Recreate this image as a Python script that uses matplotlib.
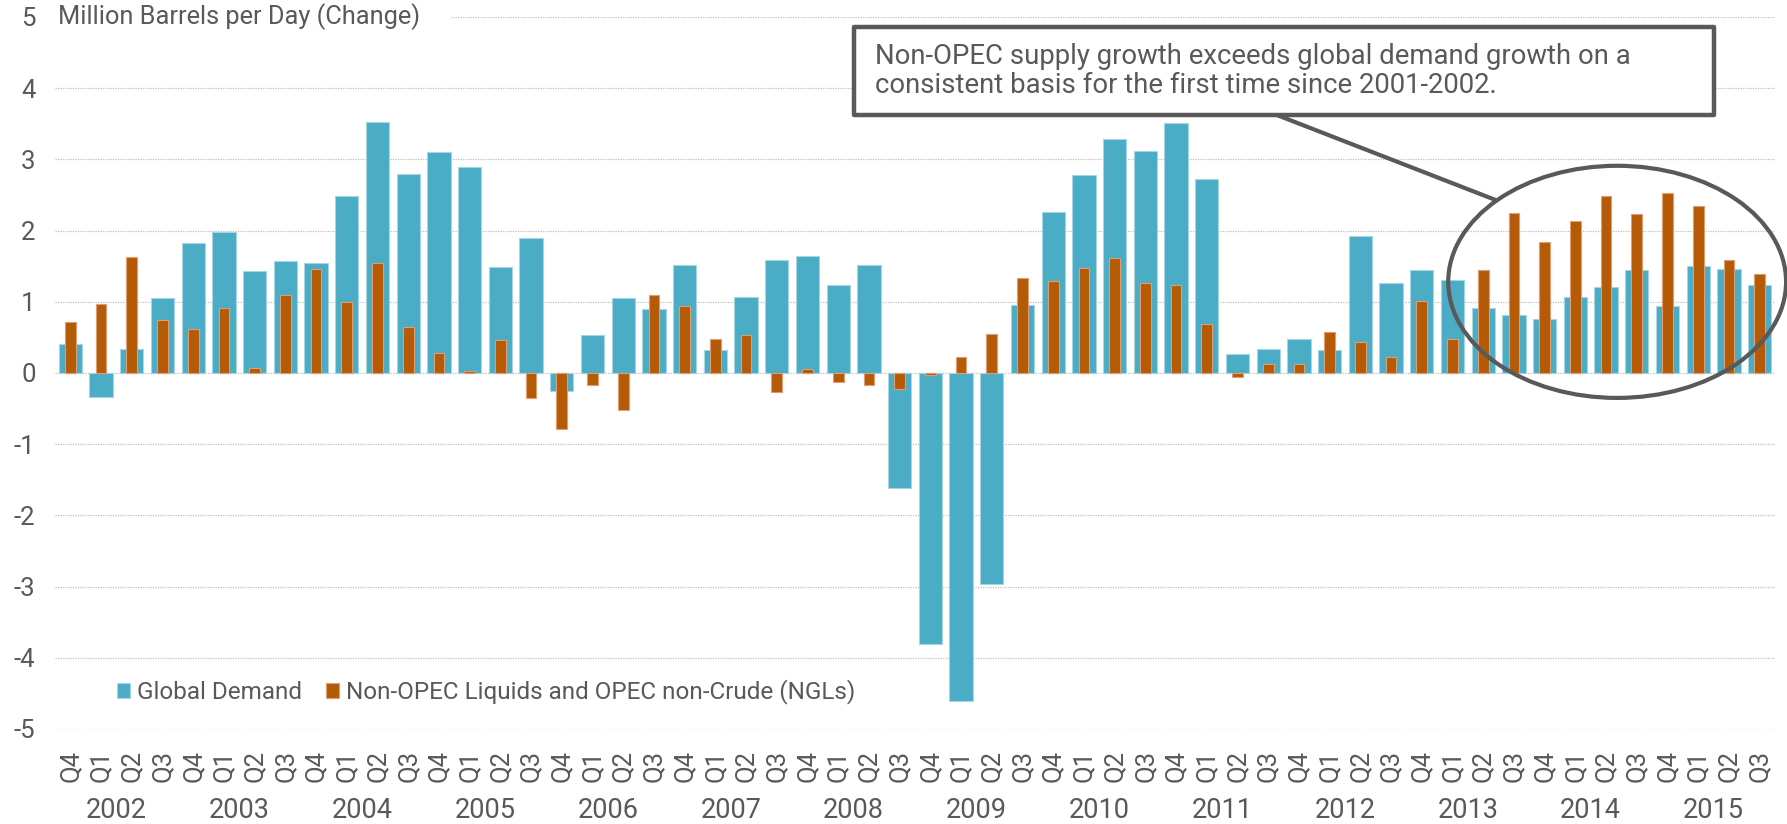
import numpy as np
import matplotlib.pyplot as plt
from matplotlib.patches import Ellipse, Rectangle
from matplotlib.transforms import blended_transform_factory

plt.rcParams['font.family'] = ['Roboto', 'DejaVu Sans']

# quarters Q4 2001 .. Q3 2015, grouped under the year label
quarters = ['Q4', 'Q1', 'Q2', 'Q3'] * 14
years = [str(y) for y in range(2002, 2016)]

# change vs. year earlier, million barrels per day
demand = [0.41, -0.34, 0.34, 1.05, 1.82, 1.98, 1.43, 1.57, 1.55, 2.49,
          3.52, 2.79, 3.11, 2.89, 1.49, 1.89, -0.25, 0.54, 1.05, 0.90,
          1.52, 0.32, 1.07, 1.58, 1.64, 1.23, 1.51, -1.62, -3.81, -4.61,
          -2.96, 0.95, 2.26, 2.78, 3.28, 3.12, 3.51, 2.72, 0.27, 0.34,
          0.48, 0.32, 1.93, 1.26, 1.45, 1.30, 0.91, 0.81, 0.76, 1.07,
          1.21, 1.45, 0.94, 1.50, 1.46, 1.23]
supply = [0.71, 0.97, 1.63, 0.74, 0.62, 0.91, 0.07, 1.09, 1.46, 1.00,
          1.54, 0.64, 0.28, 0.03, 0.47, -0.35, -0.79, -0.17, -0.52, 1.09,
          0.94, 0.48, 0.53, -0.27, 0.05, -0.12, -0.17, -0.22, -0.03, 0.22,
          0.55, 1.33, 1.29, 1.47, 1.62, 1.27, 1.23, 0.69, -0.05, 0.12,
          0.12, 0.57, 0.43, 0.22, 1.01, 0.48, 1.45, 2.25, 1.84, 2.14,
          2.49, 2.23, 2.53, 2.35, 1.59, 1.39]

note = ('Non-OPEC supply growth exceeds global demand growth on a\n'
        'consistent basis for the first time since 2001-2002.')

blue = '#4BACC6'
orange = '#B55A06'
grey = '#595959'

x = np.arange(len(quarters))

fig = plt.figure(figsize=(17.87, 8.24), dpi=100)
ax = fig.add_axes([0.0308, 0.1153, 0.9625, 0.8641])

b1 = ax.bar(x, demand, width=0.76, color=blue, edgecolor='#a6d6e3',
            linewidth=0.8, label='Global Demand', zorder=2)
b2 = ax.bar(x, supply, width=0.35, color=orange, edgecolor='#dc9f73',
            linewidth=0.8, label='Non-OPEC Liquids and OPEC non-Crude (NGLs)',
            zorder=3)

ax.set_xlim(-0.5, len(quarters) - 0.5)
ax.set_ylim(-5, 5)
ax.set_yticks(range(-5, 6))
ax.set_yticklabels([str(v) for v in range(-5, 6)])
ax.yaxis.grid(True, linestyle=(0, (1, 1)), color='#c0c0c0', linewidth=0.9)
ax.set_axisbelow(True)
for s in ax.spines.values():
    s.set_visible(False)

ax.set_xticks(x)
ax.set_xticklabels(quarters, rotation=90)
ax.tick_params(axis='x', length=0, pad=15, labelsize=18.5, colors=grey)
ax.tick_params(axis='y', length=0, pad=14, labelsize=18.5, colors=grey)
for lab in ax.get_yticklabels():
    lab.set_horizontalalignment('right')

trans = blended_transform_factory(ax.transData, ax.transAxes)
for i, yr in enumerate(years):
    ax.text(4 * i + 1.5, -0.115, yr, transform=trans, ha='center',
            va='center', fontsize=19.5, color=grey)

# unit title sits on the top gridline
ax.add_patch(Rectangle((-0.5, 4.9), 12.9, 0.2, facecolor='white',
                       edgecolor='none', zorder=1, clip_on=False))
ax.text(-0.39, 5, 'Million Barrels per Day (Change)', ha='left', va='center',
        fontsize=18.3, color=grey, zorder=4)

ax.legend(handles=[b1, b2], loc='center left', bbox_to_anchor=(0.036, 0.052),
          ncol=2, frameon=False, fontsize=17.5, handlelength=0.52,
          handleheight=0.58, handletextpad=0.3, columnspacing=1.0,
          borderpad=0, borderaxespad=0, labelcolor=grey)

# callout
ax.add_patch(Rectangle((25.5, 3.62), 28.0, 1.24, facecolor='white',
                       edgecolor=grey, linewidth=3.2, joinstyle='round',
                       zorder=5, clip_on=False))
ax.text(26.2, 4.245, note, ha='left', va='center', fontsize=19.8,
        color=grey, linespacing=1.08, zorder=6)
ax.plot([39.3, 46.4], [3.62, 2.43], color=grey, linewidth=3,
        solid_capstyle='butt', zorder=6)
ax.add_patch(Ellipse((50.36, 1.28), 11.0, 3.26, fill=False, edgecolor=grey,
                     linewidth=3, zorder=6, clip_on=False))

fig.savefig('out.png', dpi=100)
